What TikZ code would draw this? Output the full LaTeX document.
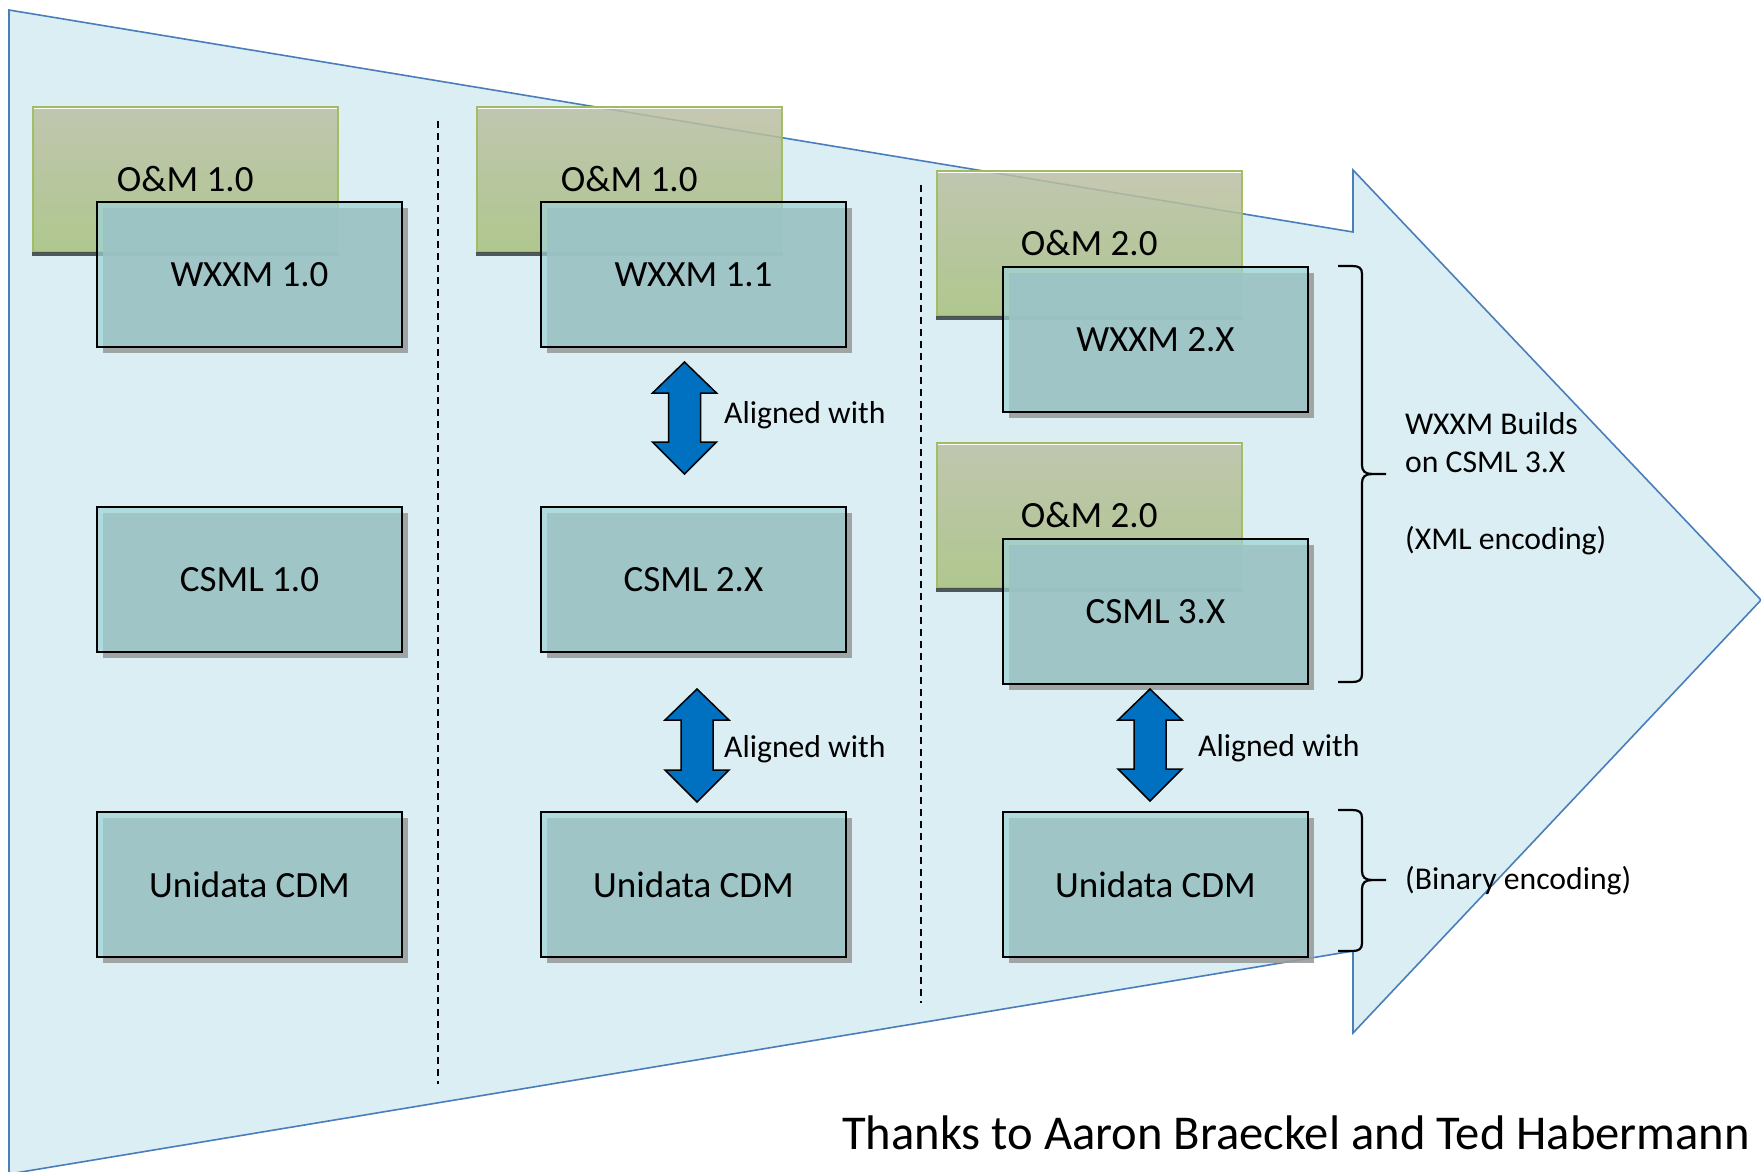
\documentclass[tikz,border=0pt]{standalone}
\usepackage{fontspec}
\setmainfont{Carlito}
\usetikzlibrary{shadows}
\definecolor{bgarrow}{HTML}{DBEEF4}
\definecolor{arrowline}{HTML}{4A7EBB}
\definecolor{omtop}{HTML}{BCBFA4}
\definecolor{ombot}{HTML}{A8C17D}
\definecolor{omborder}{HTML}{9BBB59}
\definecolor{omshade}{HTML}{3E474D}
\definecolor{boxfill}{HTML}{9FD4D6}
\definecolor{boxshadow}{HTML}{999C9D}
\definecolor{dblblue}{HTML}{0070C0}
\newcommand{\dblarr}[3]{%
  \filldraw[dblsty] (#1,#2) -- (#1+32,#2+31) -- (#1+16,#2+31) -- (#1+16,#3-32) -- (#1+32,#3-32)
   -- (#1,#3) -- (#1-32,#3-32) -- (#1-16,#3-32) -- (#1-16,#2+31) -- (#1-32,#2+31) -- cycle;}
\newcommand{\mybrace}[3]{%
  \draw[bracesty] (1338,#1) -- (1352,#1) .. controls (1359,#1) and (1362,#1+2) .. (1362,#1+8)
   -- (1362,#3-9) .. controls (1362,#3-3) and (1365,#3) .. (1372,#3) -- (1386,#3);
  \draw[bracesty] (1372,#3) .. controls (1365,#3) and (1362,#3+3) .. (1362,#3+9)
   -- (1362,#2-8) .. controls (1362,#2-2) and (1359,#2) .. (1352,#2) -- (1338,#2);}
\tikzset{
  greenbox/.style={anchor=north west, minimum width=305pt, minimum height=145pt, inner sep=0pt,
    draw=omborder, line width=1.5pt, top color=omtop, bottom color=ombot,
    fill opacity=0.85, draw opacity=0.9, text opacity=1, font=\fontsize{37}{44}\selectfont},
  bluebox/.style={anchor=north west, minimum width=305pt, minimum height=145pt, inner sep=0pt,
    draw=black, line width=2pt, fill=boxfill, fill opacity=0.7, text opacity=1,
    font=\fontsize{37}{44}\selectfont,
    drop shadow={shadow xshift=6pt, shadow yshift=-6pt, fill=boxshadow, draw=none, opacity=0.9}},
  dblsty/.style={fill=dblblue, draw=black, line width=1.5pt, line join=miter},
  bracesty/.style={draw=black, line width=2.2pt, line cap=butt, line join=round},
  divider/.style={draw=black, line width=1.5pt, dash pattern=on 7pt off 5pt},
  lbl/.style={anchor=base west, inner sep=0pt, font=\fontsize{31.7}{38}\selectfont},
  omshadow/.style={fill=omshade, fill opacity=0.9}
}
\begin{document}
\begin{tikzpicture}[x=1pt, y=-1pt]
\useasboundingbox (0,0) rectangle (1761,1171);
\fill[white] (0,0) rectangle (1761,1171);
% big background arrow
\filldraw[fill=bgarrow, draw=arrowline, line width=1.6pt, line join=miter]
  (9,10) -- (1353,232) -- (1353,170) -- (1761,600) -- (1353,1033) -- (1353,951) -- (9,1174) -- cycle;
% dividers
\coordinate (d1a) at (438,121); \coordinate (d1b) at (438,1084);
\coordinate (d2a) at (921,185); \coordinate (d2b) at (921,1003);
\draw[divider] (d1a) -- (d1b);
\draw[divider] (d2a) -- (d2b);
% green O&M boxes
\node[greenbox] (om1) at (32,106) {O\&M 1.0};
\node[greenbox] (om2) at (476,106) {O\&M 1.0};
\node[greenbox] (om3) at (936,170) {O\&M 2.0};
\node[greenbox] (om4) at (936,442) {O\&M 2.0};
\foreach \n in {om1,om2,om3,om4}{
  \fill[omshadow] ([yshift=0.5pt]\n.south west) rectangle ([yshift=-3.5pt]\n.south east);
  \draw[white, line width=1.4pt] ([shift={(1.5pt,-2.2pt)}]\n.north west) -- ([shift={(-1.5pt,-2.2pt)}]\n.north east);
}
% blue boxes
\node[bluebox] (wx1) at (96,201) {WXXM 1.0};
\node[bluebox] (wx2) at (540,201) {WXXM 1.1};
\node[bluebox] (wx3) at (1002,266) {WXXM 2.X};
\node[bluebox] (cs1) at (96,506) {CSML 1.0};
\node[bluebox] (cs2) at (540,506) {CSML 2.X};
\node[bluebox] (cs3) at (1002,538) {CSML 3.X};
\node[bluebox] (cd1) at (96,811) {Unidata CDM};
\node[bluebox] (cd2) at (540,811) {Unidata CDM};
\node[bluebox] (cd3) at (1002,811) {Unidata CDM};
% double arrows
\dblarr{684.5}{362}{474}
\dblarr{697}{689}{802}
\dblarr{1150}{689}{801}
\node[lbl] (al1) at (724,423) {Aligned with};
\node[lbl] (al2) at (724,757) {Aligned with};
\node[lbl] (al3) at (1198,756) {Aligned with};
% braces
\mybrace{266}{682}{474}
\mybrace{810}{951}{880}
\node[lbl] (t1) at (1405,434) {WXXM Builds};
\node[lbl] (t2) at (1405,472) {on CSML 3.X};
\node[lbl] (t3) at (1405,549) {(XML encoding)};
\node[lbl] (t4) at (1405,889) {(Binary encoding)};
% credit
\node[anchor=base west, inner sep=0pt, font=\fontsize{48.6}{58}\selectfont] (thanks) at (842,1149)
  {Thanks to Aaron Braeckel and Ted Habermann};
\end{tikzpicture}
\end{document}
